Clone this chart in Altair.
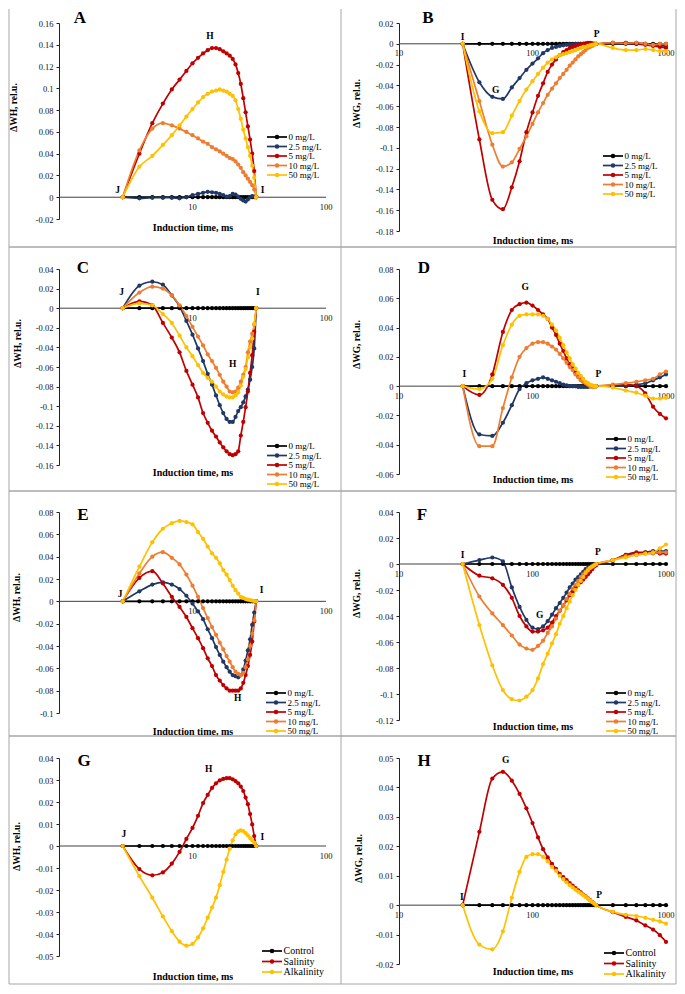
import altair as alt
import pandas as pd

SERIF = "Liberation Serif"

# ---------------- data ----------------
T_JI = [3, 4, 5, 6, 7, 8, 9, 10, 11, 12, 13, 14, 15, 16, 17, 18, 19, 20,
        21, 22, 23, 24, 25, 26, 27, 28, 29, 30]
T_IP = [30, 40, 50, 60, 70, 80, 90, 100, 110, 120, 130, 140, 150, 160, 170,
        180, 190, 200, 210, 220, 230, 240, 250, 260, 270, 280, 290, 300,
        400, 500, 600, 700, 800, 900, 1000]

SERIES5 = ["0 mg/L", "2.5 mg/L", "5 mg/L", "10 mg/L", "50 mg/L"]
COLORS5 = ["#000000", "#203864", "#C00000", "#ED7D31", "#FFC000"]
SERIES3 = ["Control", "Salinity", "Alkalinity"]
COLORS3 = ["#000000", "#C00000", "#FFC000"]

ZERO_JI = [0, 0, 0, 0, 0, 0, 0, 0, 0, 0, 0, 0, 0, 0, 0, 0, 0, 0, 0, 0, 0, 0, 0, 0, 0, 0, 0, 0]
ZERO_IP = [0, 0, 0, 0, 0, 0, 0, 0, 0, 0, 0, 0, 0, 0, 0, 0, 0, 0, 0, 0, 0, 0, 0, 0, 0, 0, 0, 0,
           0, 0, 0, 0, 0, 0, 0]

# Panel A (dWH)
A_25 = [0, -0.001, -0.0005, -0.0005, -0.0005, -0.001, 0.0, 0.002, 0.003, 0.004, 0.005, 0.0045, 0.004, 0.003,
        0.002, 0.0005, 0.001, 0.003, 0.0025, 0.0005, -0.0015, -0.003, -0.004, -0.002, 0.0, 0.001, 0.0005, 0]
A_5 = [0, 0.040, 0.068, 0.086, 0.099, 0.108, 0.116, 0.123, 0.128, 0.132, 0.135, 0.137, 0.137, 0.136,
       0.134, 0.132, 0.130, 0.127, 0.122, 0.114, 0.104, 0.091, 0.078, 0.065, 0.053, 0.040, 0.024, 0]
A_10 = [0, 0.043, 0.063, 0.068, 0.066, 0.063, 0.060, 0.057, 0.054, 0.051, 0.049, 0.046, 0.044, 0.042,
        0.040, 0.038, 0.036, 0.035, 0.033, 0.030, 0.027, 0.023, 0.020, 0.017, 0.014, 0.011, 0.007, 0]
A_50 = [0, 0.028, 0.038, 0.048, 0.057, 0.066, 0.074, 0.081, 0.087, 0.092, 0.095, 0.097, 0.098, 0.099,
        0.098, 0.097, 0.095, 0.093, 0.089, 0.081, 0.072, 0.062, 0.054, 0.046, 0.038, 0.029, 0.018, 0]

# Panel B (dWG)
B_25 = [0, -0.037, -0.051, -0.053, -0.042, -0.033, -0.025, -0.019, -0.014, -0.009, -0.006, -0.004, -0.003,
        -0.002, -0.0015, -0.001, -0.0005, -0.0005, 0, 0, 0, 0, 0, 0, 0, 0, 0, 0,
        0.001, 0.001, 0.001, 0.0, -0.001, -0.002, -0.002]
B_5 = [0, -0.092, -0.150, -0.159, -0.138, -0.113, -0.085, -0.066, -0.050, -0.038, -0.027, -0.020, -0.015,
       -0.011, -0.008, -0.006, -0.004, -0.003, -0.002, -0.001, -0.0005, 0, 0.0005, 0.001, 0.001, 0.0005, 0, 0,
       0.001, 0.001, 0.0, -0.001, -0.002, -0.003, -0.004]
B_10 = [0, -0.055, -0.097, -0.118, -0.114, -0.101, -0.089, -0.077, -0.066, -0.057, -0.049, -0.043, -0.038,
        -0.033, -0.029, -0.025, -0.021, -0.018, -0.015, -0.012, -0.010, -0.008, -0.006, -0.004, -0.003, -0.002,
        -0.001, 0, 0.001, 0.0005, 0.001, 0.0, -0.001, 0.0, 0.0]
B_50 = [0, -0.065, -0.086, -0.085, -0.069, -0.055, -0.044, -0.036, -0.029, -0.023, -0.018, -0.015, -0.013,
        -0.011, -0.010, -0.009, -0.008, -0.007, -0.006, -0.005, -0.004, -0.003, -0.003, -0.002, -0.0015, -0.001,
        -0.0005, 0, -0.004, -0.006, -0.006, -0.005, -0.006, -0.007, -0.007]

# Panel C (dWH)
C_25 = [0, 0.023, 0.027, 0.024, 0.013, 0.002, -0.013, -0.027, -0.041, -0.054, -0.067, -0.078, -0.089, -0.099,
        -0.107, -0.113, -0.116, -0.116, -0.111, -0.105, -0.101, -0.096, -0.090, -0.083, -0.073, -0.060, -0.041, 0]
C_5 = [0, 0.007, 0.003, -0.015, -0.030, -0.045, -0.064, -0.078, -0.091, -0.107, -0.117, -0.125, -0.131, -0.137,
       -0.142, -0.146, -0.149, -0.150, -0.149, -0.146, -0.130, -0.116, -0.101, -0.085, -0.066, -0.048, -0.024, 0]
C_10 = [0, 0.016, 0.022, 0.020, 0.013, 0.003, -0.008, -0.019, -0.029, -0.038, -0.047, -0.054, -0.061, -0.068,
        -0.075, -0.080, -0.085, -0.086, -0.085, -0.081, -0.075, -0.068, -0.060, -0.045, -0.034, -0.026, -0.017, 0]
C_50 = [0, 0.005, 0.003, -0.006, -0.015, -0.028, -0.040, -0.049, -0.058, -0.066, -0.071, -0.075, -0.080, -0.085,
        -0.088, -0.090, -0.091, -0.091, -0.089, -0.086, -0.079, -0.070, -0.062, -0.050, -0.040, -0.031, -0.016, 0]

# Panel D (dWG)
D_25 = [0, -0.033, -0.034, -0.025, -0.013, -0.002, 0.002, 0.004, 0.005, 0.006, 0.005, 0.004, 0.003, 0.002,
        0.001, 0.0005, 0, 0, 0, -0.0005, -0.0005, -0.0005, -0.0005, -0.0005, 0, 0, 0, 0,
        0.0, 0.0, 0.001, 0.002, 0.004, 0.006, 0.008]
D_5 = [0, -0.006, 0.008, 0.037, 0.052, 0.056, 0.057, 0.055, 0.052, 0.049, 0.046, 0.040, 0.035, 0.029,
       0.024, 0.019, 0.015, 0.012, 0.009, 0.007, 0.005, 0.003, 0.002, 0.001, 0, 0, 0, 0,
       0.0005, 0.001, 0.0, -0.005, -0.014, -0.019, -0.022]
D_10 = [0, -0.041, -0.041, -0.015, 0.006, 0.020, 0.026, 0.029, 0.030, 0.030, 0.029, 0.027, 0.025, 0.022,
        0.019, 0.016, 0.013, 0.011, 0.008, 0.006, 0.004, 0.003, 0.002, 0.001, 0, -0.0005, -0.0005, 0,
        0.001, 0.002, 0.003, 0.004, 0.005, 0.008, 0.010]
D_50 = [0, -0.002, 0.005, 0.028, 0.042, 0.048, 0.049, 0.049, 0.049, 0.048, 0.046, 0.042, 0.038, 0.033,
        0.028, 0.023, 0.019, 0.015, 0.012, 0.009, 0.007, 0.005, 0.003, 0.002, 0.001, 0.0005, 0, 0,
        -0.001, -0.003, -0.0045, -0.0065, -0.0085, -0.0085, -0.008]

# Panel E (dWH)
E_25 = [0, 0.009, 0.015, 0.017, 0.015, 0.011, 0.005, -0.002, -0.009, -0.016, -0.025, -0.033, -0.041, -0.048,
        -0.054, -0.059, -0.063, -0.066, -0.067, -0.068, -0.066, -0.061, -0.053, -0.044, -0.034, -0.021, -0.010, 0]
E_5 = [0, 0.021, 0.027, 0.016, 0.004, -0.005, -0.014, -0.024, -0.033, -0.042, -0.051, -0.058, -0.066, -0.071,
       -0.075, -0.078, -0.080, -0.080, -0.080, -0.080, -0.078, -0.073, -0.066, -0.058, -0.048, -0.036, -0.018, 0]
E_10 = [0, 0.025, 0.040, 0.044, 0.039, 0.033, 0.024, 0.014, 0.004, -0.006, -0.015, -0.023, -0.030, -0.037,
        -0.043, -0.049, -0.054, -0.059, -0.063, -0.065, -0.066, -0.064, -0.059, -0.052, -0.040, -0.029, -0.017, 0]
E_50 = [0, 0.031, 0.053, 0.065, 0.070, 0.072, 0.071, 0.069, 0.062, 0.056, 0.049, 0.043, 0.039, 0.034,
        0.028, 0.024, 0.019, 0.014, 0.010, 0.007, 0.004, 0.003, 0.002, 0.0015, 0.001, 0.0007, 0.0003, 0]

# Panel F (dWG)
F_25 = [0, 0.003, 0.005, 0.002, -0.018, -0.033, -0.043, -0.049, -0.050, -0.048, -0.044, -0.039, -0.034, -0.030,
        -0.026, -0.022, -0.018, -0.015, -0.012, -0.010, -0.008, -0.006, -0.004, -0.003, -0.002, -0.001, -0.0005, 0,
        0.003, 0.007, 0.008, 0.009, 0.010, 0.010, 0.010]
F_5 = [0, -0.009, -0.011, -0.016, -0.026, -0.040, -0.048, -0.052, -0.052, -0.051, -0.049, -0.045, -0.040, -0.036,
       -0.032, -0.028, -0.024, -0.021, -0.018, -0.016, -0.014, -0.012, -0.010, -0.008, -0.006, -0.004, -0.002, -0.001,
       0.003, 0.007, 0.009, 0.009, 0.009, 0.008, 0.008]
F_10 = [0, -0.025, -0.038, -0.047, -0.055, -0.062, -0.065, -0.066, -0.063, -0.059, -0.053, -0.048, -0.042, -0.036,
        -0.032, -0.027, -0.023, -0.019, -0.016, -0.013, -0.010, -0.008, -0.006, -0.004, -0.003, -0.002, -0.001, 0,
        0.003, 0.006, 0.007, 0.008, 0.008, 0.009, 0.009]
F_50 = [0, -0.047, -0.078, -0.097, -0.104, -0.105, -0.102, -0.097, -0.088, -0.077, -0.069, -0.061, -0.054, -0.046,
        -0.040, -0.034, -0.029, -0.024, -0.020, -0.016, -0.013, -0.010, -0.007, -0.005, -0.003, -0.002, -0.001, 0,
        0.003, 0.005, 0.007, 0.008, 0.009, 0.012, 0.015]

# Panel G (dWH, salinity / alkalinity)
G_S = [0, -0.0105, -0.0133, -0.012, -0.008, -0.0027, 0.0032, 0.0082, 0.0137, 0.0195, 0.0232, 0.0264, 0.0285,
       0.0298, 0.0305, 0.0308, 0.0308, 0.0303, 0.0295, 0.0285, 0.027, 0.025, 0.022, 0.019, 0.0145, 0.0098,
       0.0045, 0]
G_A = [0, -0.0137, -0.0235, -0.032, -0.0387, -0.0435, -0.0453, -0.0445, -0.0415, -0.0374, -0.0326, -0.028,
       -0.0235, -0.0178, -0.0118, -0.0062, -0.0012, 0.0026, 0.0053, 0.0066, 0.0071, 0.0068, 0.0059, 0.0048,
       0.0036, 0.0026, 0.0014, 0]

# Panel H (dWG, salinity / alkalinity)
H_S = [0, 0.0249, 0.043, 0.0453, 0.0423, 0.0378, 0.0329, 0.0279, 0.023, 0.019, 0.0162, 0.014, 0.0123, 0.0106,
       0.0095, 0.0085, 0.0075, 0.0066, 0.0058, 0.005, 0.0043, 0.0036, 0.003, 0.0023, 0.0017, 0.0011, 0.0005, 0,
       -0.0024, -0.004, -0.0052, -0.0069, -0.0083, -0.0102, -0.0125]
H_A = [0, -0.0134, -0.015, -0.0089, 0.0025, 0.0113, 0.0164, 0.0173, 0.0173, 0.0164, 0.0149, 0.013, 0.0117, 0.010,
       0.0088, 0.0077, 0.0068, 0.006, 0.0053, 0.0046, 0.004, 0.0034, 0.0028, 0.0022, 0.0016, 0.001, 0.0005, 0,
       -0.0023, -0.0033, -0.0037, -0.0043, -0.005, -0.0055, -0.0063]

# tick values
YT_A = [-0.02, 0, 0.02, 0.04, 0.06, 0.08, 0.1, 0.12, 0.14, 0.16]
YT_B = [-0.18, -0.16, -0.14, -0.12, -0.1, -0.08, -0.06, -0.04, -0.02, 0, 0.02]
YT_C = [-0.16, -0.14, -0.12, -0.1, -0.08, -0.06, -0.04, -0.02, 0, 0.02, 0.04]
YT_D = [-0.06, -0.04, -0.02, 0, 0.02, 0.04, 0.06, 0.08]
YT_E = [-0.1, -0.08, -0.06, -0.04, -0.02, 0, 0.02, 0.04, 0.06, 0.08]
YT_F = [-0.12, -0.1, -0.08, -0.06, -0.04, -0.02, 0, 0.02, 0.04]
YT_G = [-0.05, -0.04, -0.03, -0.02, -0.01, 0, 0.01, 0.02, 0.03, 0.04]
YT_H = [-0.02, -0.01, 0, 0.01, 0.02, 0.03, 0.04, 0.05]

XL_JI = [10, 100]
XL_JI_TXT = ["10", "100"]
XL_IP = [10, 100, 1000]
XL_IP_TXT = ["10", "100", "1000"]

# point labels (label, time, value)
ANN_A = [("J", 2.75, 0.007), ("H", 13.5, 0.148), ("I", 33.5, 0.007)]
ANN_B = [("I", 30, 0.0064), ("G", 53, -0.044), ("P", 303, 0.0096)]
ANN_C = [("J", 2.94, 0.017), ("H", 20, -0.0565), ("I", 30.8, 0.017)]
ANN_D = [("I", 30.8, 0.0082), ("G", 88, 0.0678), ("P", 312, 0.0082)]
ANN_E = [("J", 2.87, 0.0066), ("H", 21.8, -0.087), ("I", 32.9, 0.0102)]
ANN_F = [("I", 30, 0.0072), ("G", 113, -0.0395), ("P", 309, 0.009)]
ANN_G = [("J", 3.06, 0.0056), ("H", 13.2, 0.035), ("I", 33.3, 0.004)]
ANN_H = [("I", 29.5, 0.0029), ("G", 63, 0.0494), ("P", 316, 0.0035)]

W = 267
BORDER = "#a6a6a6"


def seg(x1, y1, x2, y2):
    return alt.Chart(pd.DataFrame({"k": [0]})).mark_rule(color=BORDER, strokeWidth=1).encode(
        x=alt.value(x1), y=alt.value(y1), x2=alt.value(x2), y2=alt.value(y2))


def panel(letter, times, names, colors, series, xdom, ydom, yticks, ytitle, h,
          border, ytitle_xy, xtitle_y, letter_xy, leg, ann, xl, xl_txt):
    rows = []
    for name, vals in zip(names, series):
        for t, v in zip(times, vals):
            rows.append({"t": t, "v": v, "s": name})
    df = pd.DataFrame(rows)

    xscale = alt.Scale(type="log", domain=xdom, nice=False)
    yscale = alt.Scale(domain=ydom, nice=False, zero=False)
    cscale = alt.Scale(domain=names, range=colors)
    xaxis = alt.Axis(title="Induction time, ms", labels=False, ticks=False, domain=False, grid=False,
                     titleFont=SERIF, titleFontSize=10, titleFontWeight="bold", titleColor="black",
                     titleY=xtitle_y, titleBaseline="middle")
    yaxis = alt.Axis(values=yticks, labelExpr="'' + round(datum.value * 1000) / 1000", grid=False,
                     tickSize=3, tickColor="#222222", domainColor="#222222", labelFont=SERIF,
                     labelFontSize=8.5, labelColor="#111111", labelPadding=3,
                     title=ytitle, titleFont=SERIF, titleFontSize=9.5, titleFontWeight="bold",
                     titleColor="black", titleAngle=270, titleX=ytitle_xy[0], titleY=ytitle_xy[1],
                     titleAlign="center", titleBaseline="middle")

    def X(f):
        return alt.X(f, type="quantitative", scale=xscale, axis=xaxis)

    def Y(f, with_axis=False):
        return alt.Y(f, type="quantitative", scale=yscale, axis=yaxis if with_axis else None)

    # cell border: (left, top, right, bottom, draw_left, draw_top)
    bl, bt, br, bb, draw_left, draw_top = border
    segs = [seg(br, bt, br, bb), seg(bl, bb, br, bb)]
    if draw_left:
        segs.append(seg(bl, bt, bl, bb))
    if draw_top:
        segs.append(seg(bl, bt, br, bt))

    zero = alt.Chart(pd.DataFrame({"x": [xdom[0]], "x2": [xdom[1]], "y": [0]})).mark_rule(
        color="#404040", strokeWidth=1
    ).encode(x=X("x"), x2="x2:Q", y=Y("y", True))

    xlab = alt.Chart(pd.DataFrame({"x": xl, "y": [0] * len(xl), "lab": xl_txt})).mark_text(
        font=SERIF, fontSize=8.5, dy=9.5, baseline="middle", align="center", color="#111111"
    ).encode(x=X("x"), y=Y("y"), text="lab:N")

    lines = alt.Chart(df).mark_line(strokeWidth=1.7, interpolate="monotone").encode(
        x=X("t"), y=Y("v"), color=alt.Color("s:N", scale=cscale, legend=None))

    pts = alt.Chart(df).mark_point(filled=True, size=18, opacity=1).encode(
        x=X("t"), y=Y("v"), color=alt.Color("s:N", scale=cscale, legend=None))

    adf = pd.DataFrame({"lab": [a[0] for a in ann], "x": [a[1] for a in ann], "y": [a[2] for a in ann]})
    anns = alt.Chart(adf).mark_text(font=SERIF, fontSize=9.5, fontWeight="bold", color="black",
                                    align="center", baseline="middle").encode(
        x=X("x"), y=Y("y"), text="lab:N")

    let = alt.Chart(pd.DataFrame({"k": [0]})).mark_text(
        font=SERIF, fontSize=17, fontWeight="bold", color="black", align="center", baseline="middle"
    ).encode(x=alt.value(letter_xy[0]), y=alt.value(letter_xy[1]), text=alt.value(letter))

    # legend drawn inside the panel: leg = (centre x, first row y, last row y, half line, font size)
    cx, y0, y1, hl, fs = leg
    ldf = pd.DataFrame({"s": names, "row": list(range(len(names)))})
    ly = alt.Y("row:O", scale=alt.Scale(type="point", domain=list(range(len(names))), range=[y0, y1],
                                         padding=0), axis=None)
    lrule = alt.Chart(ldf).mark_rule(strokeWidth=1.7).encode(
        x=alt.value(cx - hl), x2=alt.value(cx + hl), y=ly, color=alt.Color("s:N", scale=cscale, legend=None))
    ldot = alt.Chart(ldf).mark_point(filled=True, size=20, opacity=1).encode(
        x=alt.value(cx), y=ly, color=alt.Color("s:N", scale=cscale, legend=None))
    ltxt = alt.Chart(ldf).mark_text(font=SERIF, fontSize=fs, color="black", align="left",
                                    baseline="middle").encode(
        x=alt.value(cx + hl + 1.5), y=ly, text="s:N")

    return alt.layer(*segs, zero, xlab, lines, pts, anns, let, lrule, ldot, ltxt).resolve_scale(
        y="independent").properties(width=W, height=h)


pA = panel("A", T_JI, SERIES5, COLORS5, [ZERO_JI, A_25, A_5, A_10, A_50], [1, 100], [-0.02, 0.16], YT_A,
           "\u0394WH, rel.u.", 196, (-50, -14, 282, 224, True, False), (-45.5, 84), 8, (21, -5),
           (218, 114, 152, 10, 9), ANN_A, XL_JI, XL_JI_TXT)
pB = panel("B", T_IP, SERIES5, COLORS5, [ZERO_IP, B_25, B_5, B_10, B_50], [10, 1000], [-0.18, 0.02], YT_B,
           "\u0394WG, rel.u.", 208, (-58, -14, 277, 224, False, False), (-43, 80), 9, (29, -5),
           (214, 133, 171, 10, 9), ANN_B, XL_IP, XL_IP_TXT)
pC = panel("C", T_JI, SERIES5, COLORS5, [ZERO_JI, C_25, C_5, C_10, C_50], [1, 100], [-0.16, 0.04], YT_C,
           "\u0394WH, rel.u.", 196, (-50, -22, 282, 222, True, True), (-42, 74), 7, (24, -1),
           (218, 177, 215, 10, 9), ANN_C, XL_JI, XL_JI_TXT)
pD = panel("D", T_IP, SERIES5, COLORS5, [ZERO_IP, D_25, D_5, D_10, D_50], [10, 1000], [-0.06, 0.08], YT_D,
           "\u0394WG, rel.u.", 205, (-58, -22, 277, 222, False, True), (-43, 75), 5, (25, -1),
           (217, 170, 208, 10, 9), ANN_D, XL_IP, XL_IP_TXT)
pE = panel("E", T_JI, SERIES5, COLORS5, [ZERO_JI, E_25, E_5, E_10, E_50], [1, 100], [-0.1, 0.08], YT_E,
           "\u0394WH, rel.u.", 201, (-50, -21, 282, 224, True, True), (-43, 85), 18, (24, 3),
           (217, 181, 219, 10, 9), ANN_E, XL_JI, XL_JI_TXT)
pF = panel("F", T_IP, SERIES5, COLORS5, [ZERO_IP, F_25, F_5, F_10, F_50], [10, 1000], [-0.12, 0.04], YT_F,
           "\u0394WG, rel.u.", 208, (-58, -21, 277, 224, False, True), (-43, 81), 6, (23, 3),
           (217, 181, 219, 10, 9), ANN_F, XL_IP, XL_IP_TXT)
pG = panel("G", T_JI, SERIES3, COLORS3, [ZERO_JI, G_S, G_A], [1, 100], [-0.05, 0.04], YT_G,
           "\u0394WH, rel.u.", 198, (-50, -22, 282, 226, True, True), (-43, 88), 20, (25, 3),
           (213, 193, 214, 10, 10), ANN_G, XL_JI, XL_JI_TXT)
pH = panel("H", T_IP, SERIES3, COLORS3, [ZERO_IP, H_S, H_A], [10, 1000], [-0.02, 0.05], YT_H,
           "\u0394WG, rel.u.", 206, (-58, -22, 277, 226, False, True), (-41, 100), 7, (25, 3),
           (215, 195, 216, 10, 10), ANN_H, XL_IP, XL_IP_TXT)

chart = alt.concat(pA, pB, pC, pD, pE, pF, pG, pH, columns=2, bounds="flush",
                   spacing={"row": 38, "column": 73}).resolve_scale(
    color="independent").properties(padding=0, background="white").configure_view(strokeWidth=0)

chart.save("out.html", embed_options={"renderer": "svg", "actions": False})
